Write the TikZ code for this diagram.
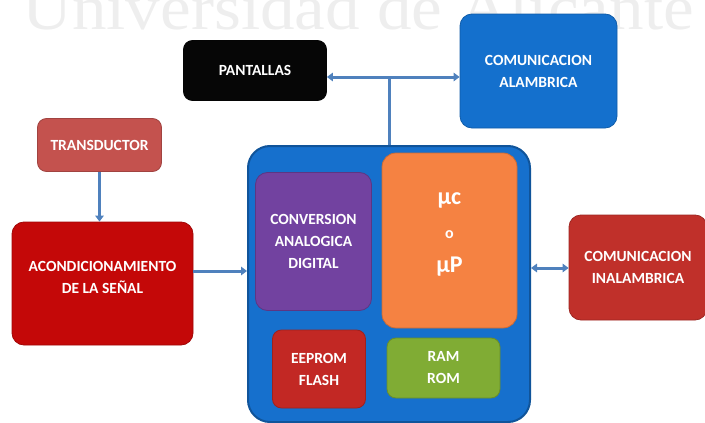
\documentclass[tikz,border=0pt]{standalone}
\usepackage{fontspec}
\setmainfont{Carlito}
\newfontfamily\wmfont{Liberation Serif}
\usetikzlibrary{arrows.meta}

\definecolor{wmgray}{RGB}{238,238,238}
\definecolor{linkblue}{RGB}{79,129,189}
\definecolor{pantblack}{RGB}{6,6,6}
\definecolor{wireblue}{RGB}{20,112,205}
\definecolor{mainblue}{RGB}{22,112,205}
\definecolor{transred}{RGB}{196,82,78}
\definecolor{acondred}{RGB}{196,8,8}
\definecolor{wlessred}{RGB}{192,48,42}
\definecolor{adcpurple}{RGB}{114,66,160}
\definecolor{cpuorange}{RGB}{245,130,66}
\definecolor{memred}{RGB}{194,40,36}
\definecolor{ramgreen}{RGB}{128,172,52}

\begin{document}
\begin{tikzpicture}[x=1pt,y=-1pt,
  box/.style={rounded corners=9pt, inner sep=0pt, draw=#1!82!black, line width=0.8pt, fill=#1},
  lbl/.style={text=white, font=\bfseries\fontsize{15.5}{22}\selectfont, align=center},
  link/.style={draw=linkblue, line width=3pt, -{Triangle[length=6pt,width=8.5pt]}},
  dlink/.style={draw=linkblue, line width=3pt, {Triangle[length=6pt,width=8.5pt]}-{Triangle[length=6pt,width=8.5pt]}},
  wire/.style={draw=linkblue, line width=3pt}]

\useasboundingbox (0,0) rectangle (705,423);
\begin{scope}
\clip (0,0) rectangle (705,423);

% faint title across the top edge
\node[anchor=base west, inner sep=0pt, text=wmgray,
      font=\wmfont\fontsize{64}{64}\selectfont] (wm) at (22,29)
      {\scalebox{1.08}[1]{Universidad de Alicante}};

% outer boxes
\node[box=pantblack, minimum width=143pt, minimum height=60pt, lbl] (pant) at (255,70.5) {PANTALLAS};
\node[box=wireblue, rounded corners=12pt, minimum width=157pt, minimum height=114pt, lbl] (alam) at (538.5,71) {COMUNICACION\\ALAMBRICA};
\node[box=transred, minimum width=124pt, minimum height=53pt, lbl] (trans) at (99.5,145) {TRANSDUCTOR};
\node[box=acondred, rounded corners=12pt, minimum width=181pt, minimum height=123pt] (acond) at (102.5,283.5) {};
\node[lbl] (acondtxt) at (102.5,277) {ACONDICIONAMIENTO\\DE LA SEÑAL};
\node[box=wlessred, rounded corners=12pt, minimum width=138pt, minimum height=105pt, lbl] (inal) at (638,267.5) {COMUNICACION\\INALAMBRICA};

% main controller block
\node[box=mainblue, draw=mainblue!75!black, line width=2pt, rounded corners=22pt,
      minimum width=282pt, minimum height=276pt] (big) at (389,284) {};
\node[box=adcpurple, rounded corners=12pt, minimum width=116pt, minimum height=138pt, lbl] (adc) at (313.5,241.5) {CONVERSION\\ANALOGICA\\DIGITAL};
\node[box=cpuorange, rounded corners=14pt, minimum width=135pt, minimum height=175pt] (cpu) at (449.5,240.5) {};
\node[text=white, font=\bfseries\fontsize{24}{34}\selectfont, align=center] (cputxt) at (449.5,234)
      {µc\\{\fontsize{16}{34}\selectfont o}\\µP};
\node[box=memred, rounded corners=9pt, minimum width=93pt, minimum height=78pt, lbl] (eep) at (319,369) {EEPROM\\FLASH};
\node[box=ramgreen, rounded corners=9pt, minimum width=113pt, minimum height=60pt, lbl] (ram) at (443.5,368) {RAM\\ROM};

% connectors
\coordinate (jn) at (389,77);
\coordinate (ja) at (195,271);
\coordinate (jw) at (531,268);
\draw[dlink] (pant.east |- jn) -- (alam.west |- jn);
\draw[wire] (jn) -- (jn |- big.north);
\draw[link] (trans.south) -- (trans.south |- acond.north);
\draw[link] (acond.east |- ja) -- (big.west |- ja);
\draw[dlink] (big.east |- jw) -- (inal.west |- jw);
\end{scope}
\end{tikzpicture}
\end{document}
